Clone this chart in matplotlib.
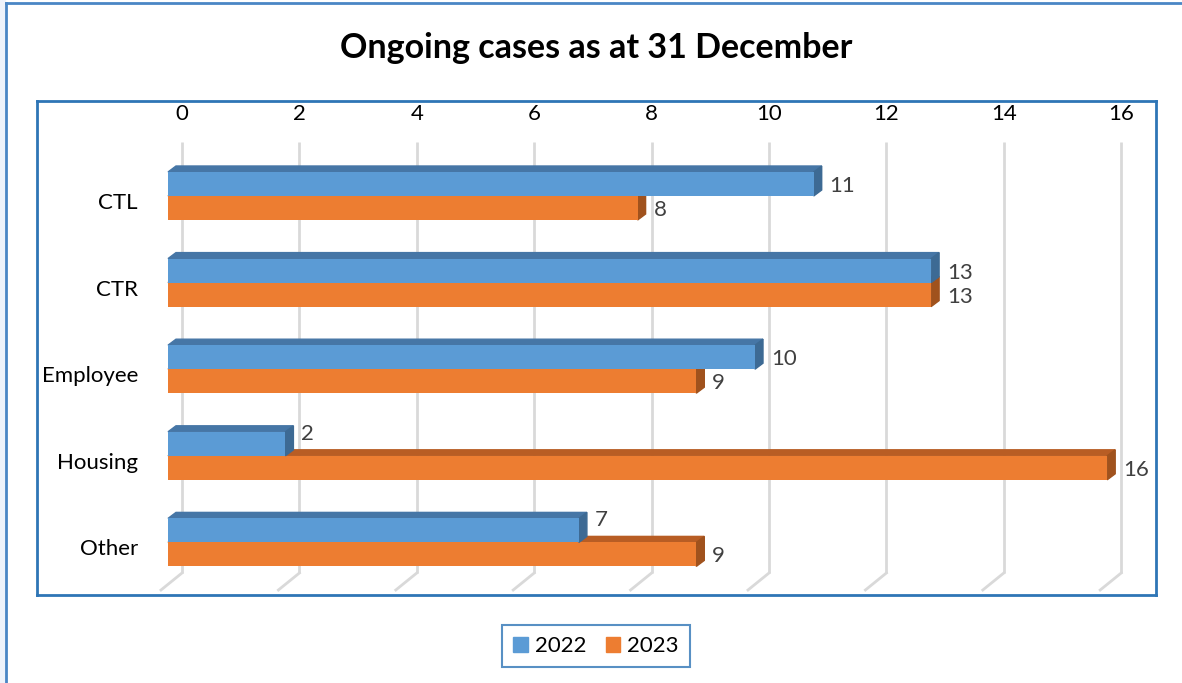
import matplotlib
matplotlib.use("Agg")
import matplotlib.pyplot as plt
from matplotlib.patches import Polygon, Patch, Rectangle

plt.rcParams['font.family'] = ['Lato', 'DejaVu Sans']

# data
categories = ["CTL", "CTR", "Employee", "Housing", "Other"]
years = ["2022", "2023"]
cases_2022 = [11, 13, 10, 2, 7]
cases_2023 = [8, 13, 9, 16, 9]
ticks = [0, 2, 4, 6, 8, 10, 12, 14, 16]

# colours (front, top, side)
blue = ("#5B9BD5", "#4676A6", "#3D6A94")
orange = ("#ED7D31", "#B85D24", "#A0521D")
grid_col = "#D9D9D9"

W, H = 1182, 683
fig = plt.figure(figsize=(W / 100, H / 100), dpi=100)

# outer chart frame
fig.patches.append(Rectangle((0, 0), 5 / W, 1, transform=fig.transFigure,
                             color="#EEF3FB", zorder=0))
fig.add_artist(plt.Line2D([6 / W, 6 / W], [0, 1 - 3 / H], color="#4A86C5", lw=2))
fig.add_artist(plt.Line2D([6 / W, 1], [1 - 3 / H, 1 - 3 / H], color="#4A86C5", lw=2))

# plot area in pixels
left, right, top, bottom = 37, 1156, 101, 595
ax = fig.add_axes([left / W, 1 - bottom / H, (right - left) / W, (bottom - top) / H])
for s in ax.spines.values():
    s.set_color("#2E75B6")
    s.set_linewidth(2)
ax.set_xticks([])
ax.set_yticks([])

# scale: pixels per unit
sx = 58.7
sy = 86.6
x0_px = 168
y0_px = 196
ax.set_xlim((left - x0_px) / sx, (right - x0_px) / sx)
ax.set_ylim((bottom - y0_px) / sy, -(y0_px - top) / sy)

px = 1 / sx
py = 1 / sy
h = 24 * py          # bar thickness
dx = 8 * px          # depth of 3d faces
dy = 6 * py
back = 14 * px       # back wall offset

fs = 16

# back wall gridlines + floor
g_top = (142 - y0_px) * py
g_bot = (573 - y0_px) * py
for t in ticks:
    xg = t + back
    ax.plot([xg, xg], [g_top, g_bot], color=grid_col, lw=2, zorder=1,
            solid_capstyle="butt")
    ax.plot([xg, xg - 21 * px], [g_bot, g_bot + 17 * py], color=grid_col, lw=2, zorder=1)
    ax.text(xg, (114 - y0_px) * py, str(t), ha="center", va="center",
            fontsize=fs, color="#000000")


def bar3d(y_top, val, cols, z):
    y_bot = y_top + h
    ax.barh(y_top + h / 2, val, height=h, color=cols[0], zorder=z + 0.2)
    ax.add_patch(Polygon([(0, y_top), (val, y_top), (val + dx, y_top - dy), (dx, y_top - dy)],
                         closed=True, color=cols[1], zorder=z))
    ax.add_patch(Polygon([(val, y_top), (val + dx, y_top - dy), (val + dx, y_bot - dy), (val, y_bot)],
                         closed=True, color=cols[2], zorder=z + 0.1))


for i, cat in enumerate(categories):
    v22 = cases_2022[i]
    v23 = cases_2023[i]
    bar3d(i, v23, orange, 2)
    bar3d(i - h, v22, blue, 3)

    # data labels
    ax.text(v23 + 16 * px, i + h / 2 + 2 * py, str(v23), ha="left", va="center",
            fontsize=fs, color="#404040", zorder=5)
    ly = i - h / 2 + 2 * py
    if v23 > v22:
        ly -= 12 * py
    ax.text(v22 + 16 * px, ly, str(v22), ha="left", va="center",
            fontsize=fs, color="#404040", zorder=5)

    # category label
    ax.text((138 - x0_px) * px, i + 7 * py, cat, ha="right", va="center",
            fontsize=fs, color="#000000")

fig.text(596 / W, 1 - 48 / H, "Ongoing cases as at 31 December", ha="center",
         va="center", fontsize=24.5, fontweight="bold")

handles = [Patch(color=blue[0], label=years[0]), Patch(color=orange[0], label=years[1])]
leg = fig.legend(handles=handles, loc="center", bbox_to_anchor=(596 / W, 1 - 646 / H),
                 ncol=2, fontsize=fs, frameon=True, fancybox=False,
                 handlelength=0.65, handleheight=0.65, handletextpad=0.3,
                 columnspacing=0.9, borderpad=0.5, borderaxespad=0.2)
leg.get_frame().set_edgecolor("#2E75B6")
leg.get_frame().set_linewidth(1.5)

fig.savefig("out.png", dpi=100)
